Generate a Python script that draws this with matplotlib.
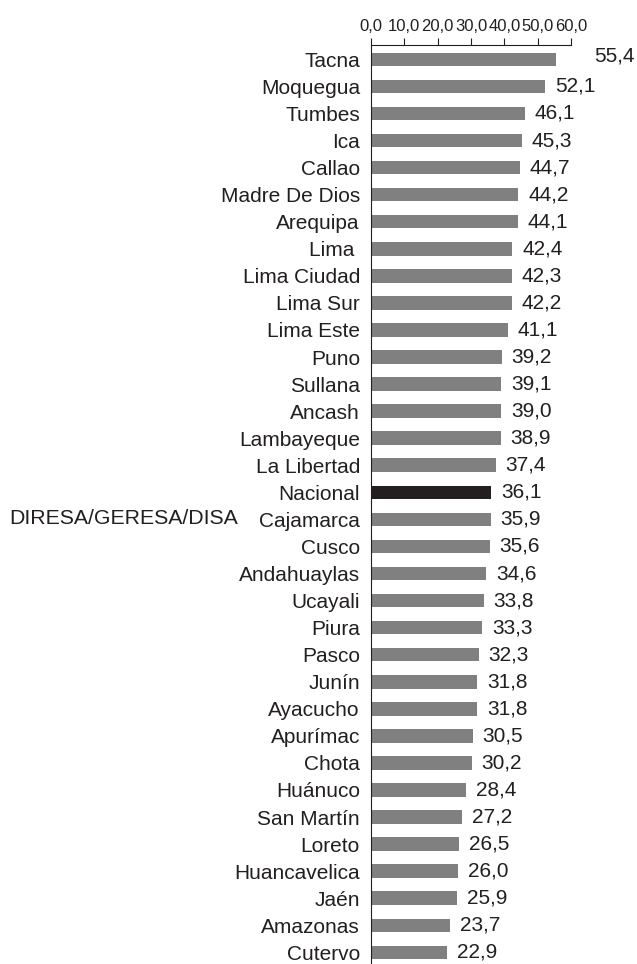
import matplotlib.pyplot as plt
from matplotlib.ticker import FuncFormatter

plt.rcParams['font.family'] = ['Liberation Sans', 'DejaVu Sans']

regiones = ['Tacna', 'Moquegua', 'Tumbes', 'Ica', 'Callao', 'Madre De Dios',
            'Arequipa', 'Lima ', 'Lima Ciudad', 'Lima Sur', 'Lima Este', 'Puno',
            'Sullana', 'Ancash', 'Lambayeque', 'La Libertad', 'Nacional',
            'Cajamarca', 'Cusco', 'Andahuaylas', 'Ucayali', 'Piura', 'Pasco',
            'Junín', 'Ayacucho', 'Apurímac', 'Chota', 'Huánuco', 'San Martín',
            'Loreto', 'Huancavelica', 'Jaén', 'Amazonas', 'Cutervo']
valores = [55.4, 52.1, 46.1, 45.3, 44.7, 44.2, 44.1, 42.4, 42.3, 42.2, 41.1,
           39.2, 39.1, 39.0, 38.9, 37.4, 36.1, 35.9, 35.6, 34.6, 33.8, 33.3,
           32.3, 31.8, 31.8, 30.5, 30.2, 28.4, 27.2, 26.5, 26.0, 25.9, 23.7, 22.9]
ticks_x = [0, 10, 20, 30, 40, 50, 60]

colores = ['#231f20' if r == 'Nacional' else '#808080' for r in regiones]

fig = plt.figure(figsize=(6.37, 9.64), dpi=100)
ax = fig.add_axes([371 / 637, 0.0, 200 / 637, 1 - 45 / 964])

pos = list(range(len(regiones)))
ax.barh(pos, valores, height=0.5, color=colores)
ax.set_ylim(len(regiones) - 1 + 0.43, -0.53)
ax.set_xlim(0, 60)

for i, v in enumerate(valores):
    off = 38 if i == 0 else 10
    dy = 3 if i == 0 else 0
    ax.annotate(f'{v:.1f}'.replace('.', ','), (v, i), xytext=(off, dy),
                textcoords='offset pixels', va='center', ha='left',
                fontsize=15, color='#231f20', annotation_clip=False)

ax.xaxis.tick_top()
ax.set_xticks(ticks_x)
ax.xaxis.set_major_formatter(FuncFormatter(lambda x, p: f'{x:.1f}'.replace('.', ',')))
ax.tick_params(axis='x', direction='out', length=5, labelsize=12, pad=3,
               color='#231f20', labelcolor='#231f20')
ax.set_yticks(pos)
ax.set_yticklabels(regiones)
ax.tick_params(axis='y', length=0, labelsize=15, pad=8, labelcolor='#231f20')

ax.spines['right'].set_visible(False)
ax.spines['bottom'].set_visible(False)
for s in ['top', 'left']:
    ax.spines[s].set_color('#231f20')
    ax.spines[s].set_linewidth(0.8)

fig.text(9 / 637, 1 - 519 / 964, 'DIRESA/GERESA/DISA', fontsize=15.3,
         va='center', ha='left', color='#231f20')

fig.savefig('out.png', dpi=100)
